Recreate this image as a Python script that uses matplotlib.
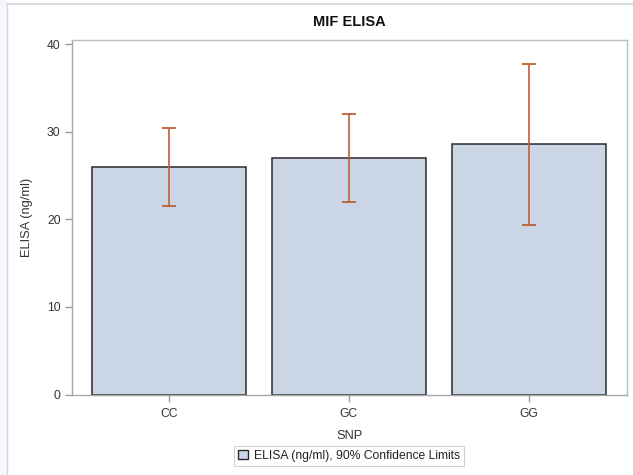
import matplotlib
matplotlib.use("Agg")
import matplotlib.pyplot as plt
from matplotlib.patches import Patch, Rectangle
from matplotlib.lines import Line2D
import numpy as np

categories = ["CC", "GC", "GG"]
means = [26.0, 27.0, 28.6]
lower = [21.5, 22.0, 19.4]
upper = [30.4, 32.1, 37.8]
yticks = [0, 10, 20, 30, 40]

plt.rcParams['font.family'] = ['Liberation Sans', 'DejaVu Sans']

W, H = 633, 475
fig = plt.figure(figsize=(W/100, H/100), dpi=100)
fig.patch.set_facecolor('white')

# outer frame decorations
fig.patches.append(Rectangle((0, 0), 7/W, 1, transform=fig.transFigure,
                             facecolor='#f5f7fc', edgecolor='none', zorder=0))
fig.add_artist(Line2D([7/W, 7/W], [0, 1 - 4/H], transform=fig.transFigure,
                      color='#d6d6d6', lw=1))
fig.add_artist(Line2D([7/W, 1], [1 - 4/H, 1 - 4/H], transform=fig.transFigure,
                      color='#d6d6d6', lw=1.2))

ax = fig.add_axes([71.7/W, 1 - 394.5/H, (627 - 71.7)/W, (394.5 - 40)/H])
x = np.arange(len(categories))
m = np.array(means)
lo = m - np.array(lower)
hi = np.array(upper) - m

ax.bar(x, means, width=0.855, color='#cad5e5', edgecolor='#2a2a2a',
       linewidth=1.1, zorder=2)
ax.errorbar(x, means, yerr=[lo, hi], fmt='none', ecolor='#bf5f38',
            elinewidth=1.2, capsize=5, capthick=1.3, zorder=3)

ax.set_xlim(-0.54, 2.545)
ax.set_ylim(0, 40.5)
ax.set_xticks(x)
ax.set_xticklabels(categories)
ax.set_yticks(yticks)
for s in ax.spines.values():
    s.set_color('#bdbdbd')
    s.set_linewidth(1.0)
ax.spines['left'].set_color('#a8a8a8')
ax.spines['bottom'].set_color('#a8a8a8')
ax.tick_params(axis='both', colors='#9a9a9a', labelcolor='#333333',
               labelsize=8.7, length=5, width=1, direction='out')
ax.tick_params(axis='x', pad=5)
ax.tick_params(axis='y', pad=3)

ax.set_xlabel("SNP", fontsize=9.3, color='#333333', labelpad=7)
ax.set_ylabel("ELISA (ng/ml)", fontsize=9.3, color='#333333', labelpad=10)

fig.text(349.5/W, 1 - 22/H, "MIF ELISA", ha='center', va='center',
         fontsize=10.5, fontweight='bold', color='#111111')

handle = Patch(facecolor='#cad5e5', edgecolor='#2a2a2a', linewidth=1.0)
leg = fig.legend([handle], ["ELISA (ng/ml), 90% Confidence Limits"],
                 loc='center', bbox_to_anchor=(349/W, 1 - 456/H),
                 fontsize=8.7, frameon=True, fancybox=False,
                 handlelength=0.8, handleheight=0.8, handletextpad=0.5,
                 borderpad=0.35, borderaxespad=0)
leg.get_frame().set_edgecolor('#c8c8c8')
leg.get_frame().set_linewidth(0.8)
for t in leg.get_texts():
    t.set_color('#222222')

fig.savefig("out.png", dpi=100, facecolor='white')
